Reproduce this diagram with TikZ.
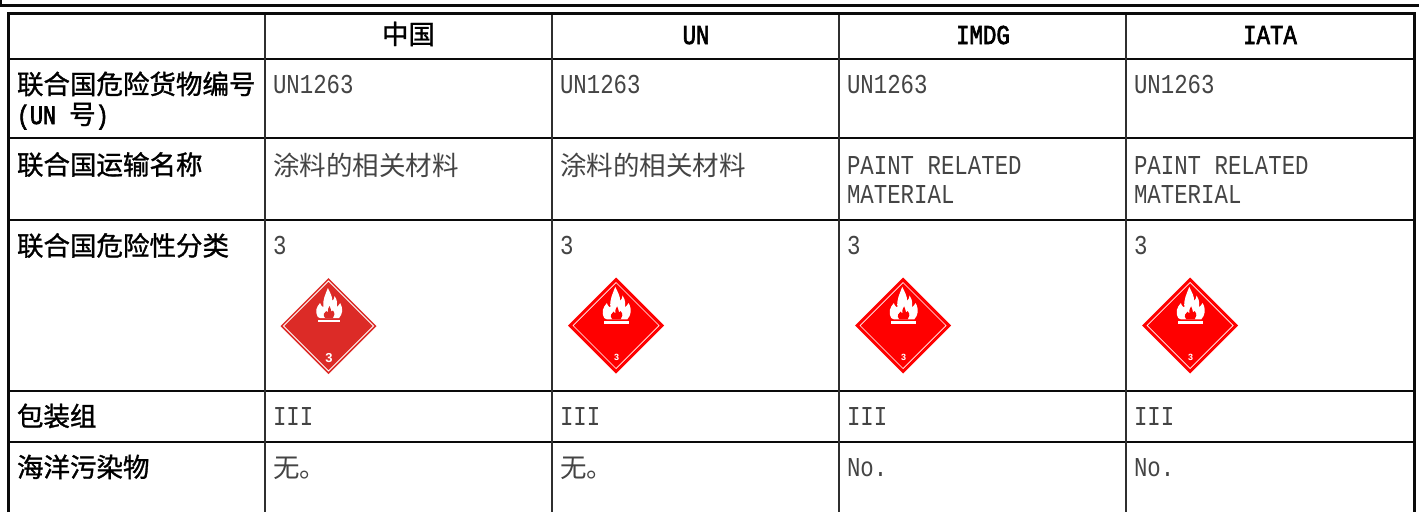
\documentclass[tikz,border=0pt]{standalone}
\usepackage{fontspec}
\setmainfont[FakeStretch=0.82]{Liberation Mono}
\newfontfamily\hdlat[FakeStretch=0.82,FakeBold=2.4]{Liberation Mono}
\newfontfamily\cjk{Noto Sans CJK SC}
\newfontfamily\cjkb[FakeBold=1.2]{Noto Sans CJK SC}
\newfontfamily\lab{Liberation Sans}
\definecolor{rule}{HTML}{0A0A0A}
\definecolor{body}{HTML}{444444}
\definecolor{placA}{HTML}{DC2B27}
\definecolor{placB}{HTML}{FF0000}
\tikzset{
  x=1pt,y=-1pt,
  gridH/.style={line width=2.8pt,color=rule},
  gridV/.style={line width=2pt,color=rule!85!white},
  gridO/.style={line width=3pt,color=rule},
  val/.style={anchor=base west,inner sep=0pt,outer sep=0pt,text=body,font=\fontsize{27.3}{30}\selectfont},
  valc/.style={anchor=base west,inner sep=0pt,outer sep=0pt,text=body,font=\fontsize{26.5}{30}\selectfont\cjk},
  rowh/.style={anchor=base west,inner sep=0pt,outer sep=0pt,text=black,font=\fontsize{26.5}{30}\selectfont\cjkb},
  head/.style={anchor=base,inner sep=0pt,outer sep=0pt,text=black,font=\fontsize{27.3}{30}\selectfont\hdlat},
  headc/.style={anchor=base,inner sep=0pt,outer sep=0pt,text=black,font=\fontsize{26.5}{30}\selectfont\cjkb},
  pics/placard/.style n args={6}{code={
    % #1 fill, #2 inner half diagonal, #3 inner line width, #4 flame scale, #5 bar offset, #6 number font size
    \fill[#1] (0,-48) -- (48,0) -- (0,48) -- (-48,0) -- cycle;
    \draw[white,line width=#3,line join=miter] (0,-#2) -- (#2,0) -- (0,#2) -- (-#2,0) -- cycle;
    \begin{scope}[shift={(0.5,#5)},xscale=#4*1.12,yscale=#4]
      \fill[white] (-10,-4) .. controls (-13,-10) and (-11,-14) .. (-8,-18)
        .. controls (-7,-15) and (-6,-14) .. (-5,-14)
        .. controls (-6,-21) and (-3,-27) .. (-1,-33)
        .. controls (1,-28) and (3,-25) .. (3,-20)
        .. controls (4,-21) and (5,-23) .. (5,-25)
        .. controls (8,-20) and (7,-17) .. (7,-14)
        .. controls (8,-15) and (9,-16) .. (10,-18)
        .. controls (13,-12) and (12,-7) .. (9,-3)
        -- (-8,-3) -- cycle;
      \fill[#1] (-3.5,-3) .. controls (-6,-6) and (-4,-9) .. (-2.5,-10)
        .. controls (-2,-9) and (-1.5,-8.5) .. (-1,-8.5)
        .. controls (-1.5,-11) and (-0.5,-13) .. (0.5,-15)
        .. controls (1.5,-12) and (2,-11) .. (2,-9.5)
        .. controls (3,-9.5) and (3.5,-10) .. (3.5,-10.5)
        .. controls (5.5,-8) and (5,-5) .. (3.5,-3) -- cycle;
      \fill[white] (-10,-1) rectangle (10,1);
    \end{scope}
    \node[inner sep=0pt,text=white,font=\fontsize{#6}{#6}\selectfont\lab\bfseries] at (0.5,32) {3};
  }}
}
\begin{document}
\begin{tikzpicture}
\useasboundingbox (0,0) rectangle (1419,512);
\fill[white] (0,0) rectangle (1419,512);
% rule above the table
\draw[line width=3pt,color=rule] (0,5) -- (1419,5);
\draw[line width=2.4pt,color=rule] (1,0) -- (1,6);
% grid
\foreach \y in {59,138,220,391,442} \draw[gridH] (9,\y) -- (1414,\y);
\foreach \x in {265,552,839,1126} \draw[gridV] (\x,13) -- (\x,512);
\draw[gridO] (8.5,512) -- (8.5,13) -- (1414,13) -- (1414,512);
% header
\node[headc] (hChina) at (408.5,44) {中国};
\node[head] (hUN) at (696,44) {UN};
\node[head] (hIMDG) at (983,44) {IMDG};
\node[head] (hIATA) at (1270,44) {IATA};
% row heads
\node[rowh] (r1a) at (17,94) {联合国危险货物编号};
\node[rowh,font=\fontsize{26.5}{30}\selectfont] (r1b) at (17,124) {\hdlat (UN \cjkb 号\hdlat )};
\node[rowh] (r2) at (17,174.5) {联合国运输名称};
\node[rowh] (r3) at (17,255.5) {联合国危险性分类};
\node[rowh] (r4) at (17,426) {包装组};
\node[rowh] (r5) at (17,477) {海洋污染物};
% UN number
\node[val] (a1) at (273,93.5) {UN1263};
\node[val] (b1) at (560,93.5) {UN1263};
\node[val] (c1) at (847,93.5) {UN1263};
\node[val] (d1) at (1134,93.5) {UN1263};
% names
\node[valc] (a2) at (273,175) {涂料的相关材料};
\node[valc] (b2) at (560,175) {涂料的相关材料};
\node[val] (c2) at (847,174) {PAINT RELATED};
\node[val] (c2b) at (847,203.5) {MATERIAL};
\node[val] (d2) at (1134,174) {PAINT RELATED};
\node[val] (d2b) at (1134,203.5) {MATERIAL};
% class
\node[val] (a3) at (273,254.5) {3};
\node[val] (b3) at (560,254.5) {3};
\node[val] (c3) at (847,254.5) {3};
\node[val] (d3) at (1134,254.5) {3};
\pic at (328.5,326) {placard={placA}{45}{1pt}{1}{-5}{13}};
\pic at (616,325.5) {placard={placB}{43}{0.7pt}{1.08}{-3}{9}};
\pic at (903,325.5) {placard={placB}{43}{0.7pt}{1.08}{-3}{9}};
\pic at (1190,325.5) {placard={placB}{43}{0.7pt}{1.08}{-3}{9}};
% packing group
\node[val] (a4) at (273,425.5) {III};
\node[val] (b4) at (560,425.5) {III};
\node[val] (c4) at (847,425.5) {III};
\node[val] (d4) at (1134,425.5) {III};
% marine pollutant
\node[valc] (a5) at (273,477) {无。};
\node[valc] (b5) at (560,477) {无。};
\node[val] (c5) at (847,476.5) {No.};
\node[val] (d5) at (1134,476.5) {No.};
\end{tikzpicture}
\end{document}
